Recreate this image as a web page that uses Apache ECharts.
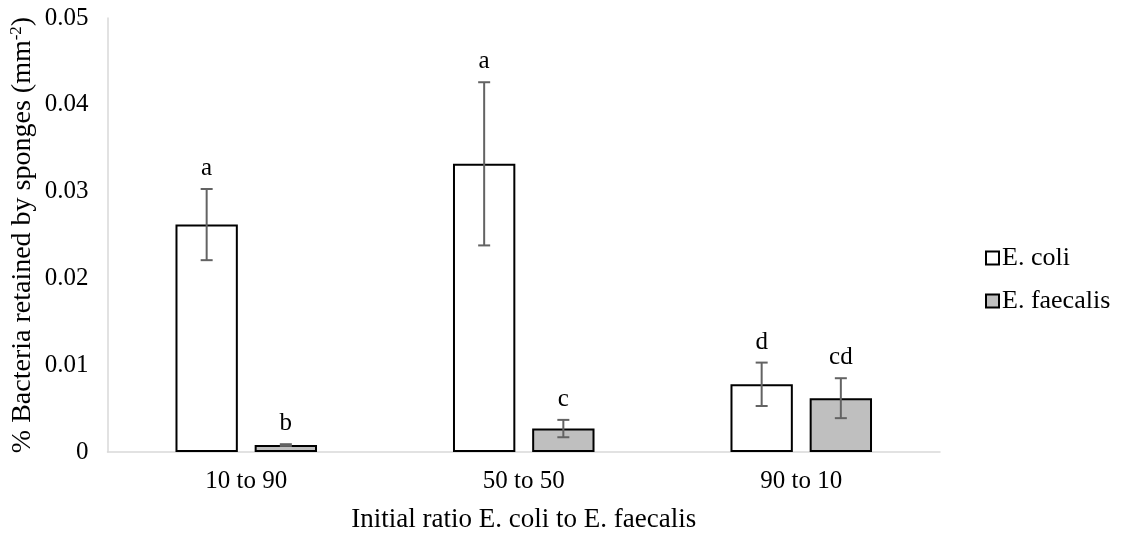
<!DOCTYPE html>
<html>
<head>
<meta charset="utf-8">
<script src="https://cdn.jsdelivr.net/npm/echarts@6/dist/echarts.min.js"></script>
<style>
  html, body { margin: 0; padding: 0; background: #fff; }
  #chart { width: 1125px; height: 533px; }
</style>
</head>
<body>
<div id="chart"></div>
<script>
const categories = ['10 to 90', '50 to 50', '90 to 10'];
const ecoliMean = [0.0262, 0.0332, 0.0078];
const ecoliErr = [0.0041, 0.0094, 0.0025];
const ecoliLetters = ['a', 'a', 'd'];
const faecalisMean = [0.0008, 0.0027, 0.0062];
const faecalisErr = [0.0001, 0.0010, 0.0023];
const faecalisLetters = ['b', 'c', 'cd'];
const yTicks = { min: 0, max: 0.05, interval: 0.01 };

const FONT = "'Liberation Serif', 'Times New Roman', serif";
const BAR_CAT_GAP = 0.49;
const BAR_GAP = 0.27;

function errData(means, errs, letters) {
  return means.map((m, i) => [i, m, errs[i], letters[i]]);
}

function makeErrRender(side) {
  return function (params, api) {
    const idx = api.value(0);
    const mean = api.value(1);
    const err = api.value(2);
    const letter = api.value(3);
    const bandW = api.size([1, 0])[0];
    const barW = bandW * (1 - BAR_CAT_GAP) / (2 + BAR_GAP);
    const off = side * barW * (1 + BAR_GAP) / 2;
    const top = api.coord([idx, mean + err]);
    const bot = api.coord([idx, mean - err]);
    const x = top[0] + off;
    const cap = 6;
    const lineStyle = { stroke: '#636363', lineWidth: 2 };
    return {
      type: 'group',
      children: [
        { type: 'line', shape: { x1: x, y1: top[1], x2: x, y2: bot[1] }, style: lineStyle },
        { type: 'line', shape: { x1: x - cap, y1: top[1], x2: x + cap, y2: top[1] }, style: lineStyle },
        { type: 'line', shape: { x1: x - cap, y1: bot[1], x2: x + cap, y2: bot[1] }, style: lineStyle },
        { type: 'text', x: x, y: top[1] - 8,
          style: { text: letter, fontSize: 25, fontFamily: FONT, fill: '#000',
                   align: 'center', verticalAlign: 'bottom' } }
      ]
    };
  };
}

const chart = echarts.init(document.getElementById('chart'), null, { renderer: 'canvas' });
chart.setOption({
  animation: false,
  backgroundColor: '#fff',
  textStyle: { fontFamily: FONT },
  grid: { left: 107.5, right: 185, top: 18, bottom: 81, containLabel: false, outerBoundsMode: 'none' },
  legend: {
    orient: 'vertical',
    left: 980,
    top: 240,
    itemWidth: 13,
    itemHeight: 13,
    itemGap: 17,
    textStyle: { fontSize: 26, fontFamily: FONT, color: '#000', padding: [0, 0, 0, -2] },
    data: [
      { name: 'E. coli', icon: 'rect' },
      { name: 'E. faecalis', icon: 'rect' }
    ]
  },
  xAxis: {
    type: 'category',
    data: categories,
    name: 'Initial ratio E. coli to E. faecalis',
    nameLocation: 'middle',
    nameGap: 54,
    nameMoveOverlap: false,
    nameTextStyle: { fontSize: 27, fontFamily: FONT, color: '#000' },
    axisLine: { lineStyle: { color: '#d9d9d9', width: 1.5 } },
    axisTick: { show: false },
    axisLabel: { fontSize: 25, fontFamily: FONT, color: '#000', margin: 17 },
    splitLine: { show: false }
  },
  yAxis: {
    type: 'value',
    min: yTicks.min,
    max: yTicks.max,
    interval: yTicks.interval,
    name: '% Bacteria retained by sponges (mm{sup|-2})',
    nameLocation: 'middle',
    nameGap: 70,
    nameMoveOverlap: false,
    nameRotate: 90,
    nameTextStyle: {
      fontSize: 28, fontFamily: FONT, color: '#000',
      rich: { sup: { fontSize: 17, fontFamily: FONT, color: '#000', verticalAlign: 'top', padding: [0, 0, 12, 0] } }
    },
    axisLine: { show: true, lineStyle: { color: '#d9d9d9', width: 1.5 } },
    axisTick: { show: false },
    axisLabel: { fontSize: 25, fontFamily: FONT, color: '#000', margin: 19 },
    splitLine: { show: false }
  },
  series: [
    {
      name: 'E. coli',
      type: 'bar',
      data: ecoliMean,
      barGap: (BAR_GAP * 100) + '%',
      barCategoryGap: (BAR_CAT_GAP * 100) + '%',
      itemStyle: { color: '#ffffff', borderColor: '#000', borderWidth: 2 }
    },
    {
      name: 'E. faecalis',
      type: 'bar',
      data: faecalisMean,
      barGap: (BAR_GAP * 100) + '%',
      barCategoryGap: (BAR_CAT_GAP * 100) + '%',
      itemStyle: { color: '#bfbfbf', borderColor: '#000', borderWidth: 2 }
    },
    {
      name: 'ecoliErr',
      type: 'custom',
      renderItem: makeErrRender(-1),
      data: errData(ecoliMean, ecoliErr, ecoliLetters),
      z: 10
    },
    {
      name: 'faecalisErr',
      type: 'custom',
      renderItem: makeErrRender(1),
      data: errData(faecalisMean, faecalisErr, faecalisLetters),
      z: 10
    }
  ]
});
</script>
</body>
</html>
